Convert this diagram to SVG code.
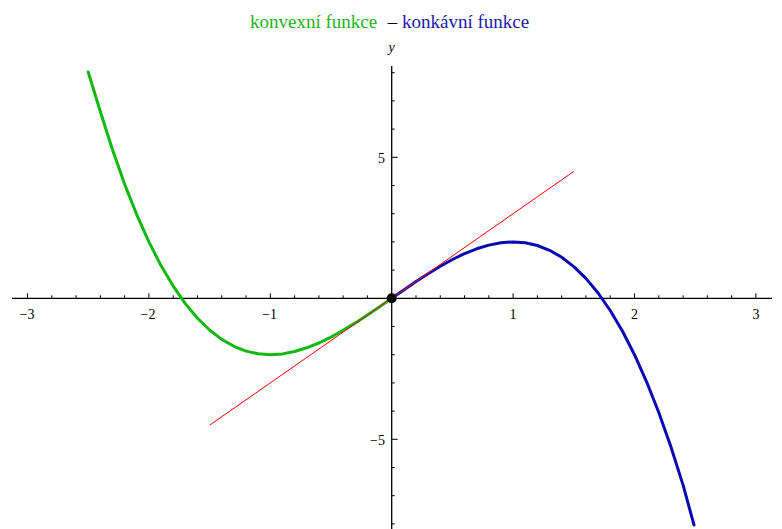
<svg xmlns="http://www.w3.org/2000/svg" width="782" height="529" viewBox="0 0 782 529">
<style>
.axis{stroke:#000;stroke-width:1.3;fill:none}
.tk{stroke:#000;stroke-width:1;fill:none}
.lbl{font-family:"Liberation Serif",serif;font-size:14px;fill:#000}
.title{font-family:"Liberation Serif",serif;font-size:19px}
.curve{fill:none;stroke-width:3;stroke-linejoin:round;stroke-linecap:round}
</style>
<rect width="782" height="529" fill="#fff"/>
<g id="title">
<text class="title" x="250" y="28" fill="#1db31d">konvexní funkce</text>
<text class="title" x="392.5" y="28" fill="#000" text-anchor="middle">–</text>
<text class="title" x="402" y="28" fill="#1a1aaa">konkávní funkce</text>
</g>
<g id="axes">
<line class="axis" x1="12" y1="298.3" x2="772" y2="298.3"/>
<line class="axis" x1="391.7" y1="66" x2="391.7" y2="529"/>
<path class="tk" d="M27.5,298.3v-5M148.9,298.3v-5M270.3,298.3v-5M513.1,298.3v-5M634.5,298.3v-5M755.9,298.3v-5"/>
<path class="tk" d="M51.8,298.3v-3M76.1,298.3v-3M100.4,298.3v-3M124.6,298.3v-3M173.2,298.3v-3M197.5,298.3v-3M221.7,298.3v-3M246.0,298.3v-3M294.6,298.3v-3M318.9,298.3v-3M343.1,298.3v-3M367.4,298.3v-3M416.0,298.3v-3M440.3,298.3v-3M464.5,298.3v-3M488.8,298.3v-3M537.4,298.3v-3M561.7,298.3v-3M585.9,298.3v-3M610.2,298.3v-3M658.8,298.3v-3M683.1,298.3v-3M707.3,298.3v-3M731.6,298.3v-3"/>
<path class="tk" d="M391.7,157.3h6M391.7,439.3h6"/>
<path class="tk" d="M391.7,72.7h3M391.7,100.9h3M391.7,129.1h3M391.7,185.5h3M391.7,213.7h3M391.7,241.9h3M391.7,270.1h3M391.7,326.5h3M391.7,354.7h3M391.7,382.9h3M391.7,411.1h3M391.7,467.5h3M391.7,495.7h3M391.7,523.9h3"/>
<text class="lbl" x="27" y="319" text-anchor="middle">−3</text>
<text class="lbl" x="148" y="319" text-anchor="middle">−2</text>
<text class="lbl" x="269.5" y="319" text-anchor="middle">−1</text>
<text class="lbl" x="513" y="319" text-anchor="middle">1</text>
<text class="lbl" x="634.5" y="319" text-anchor="middle">2</text>
<text class="lbl" x="756" y="319" text-anchor="middle">3</text>
<text class="lbl" x="385" y="163" text-anchor="end">5</text>
<text class="lbl" x="385" y="445" text-anchor="end">−5</text>
<text class="lbl" x="391.5" y="52" text-anchor="middle" font-style="italic">y</text>
</g>
<g id="connectors">
<polyline id="convex" class="curve" stroke="#10b810" points="88.2,72 100.3,111.5 112.5,149.8 124.6,184.1 136.8,214.8 148.9,241.9 161.0,265.6 173.2,286.1 185.3,303.6 197.5,318.2 209.6,330.0 221.7,339.4 233.9,346.3 246.0,351.1 258.2,353.8 270.3,354.7 282.4,353.9 294.6,351.5 306.7,347.8 318.9,343.0 331.0,337.1 343.1,330.3 355.3,322.9 367.4,315.0 379.6,306.7 391.7,298.3"/>
<polyline id="concave" class="curve" stroke="#0a0ab0" points="391.7,298.3 403.8,289.9 416.0,281.6 428.1,273.7 440.3,266.3 452.4,259.5 464.5,253.6 476.7,248.8 488.8,245.1 501.0,242.7 513.1,241.9 525.2,242.8 537.4,245.5 549.5,250.3 561.7,257.2 573.8,266.6 585.9,278.4 598.1,293.0 610.2,310.5 622.4,331.0 634.5,354.7 646.6,381.8 658.8,412.5 670.9,446.8 683.1,485.1 694,525"/>
<line id="tangent" x1="209.6" y1="425.2" x2="573.8" y2="171.4" stroke="#ff0000" stroke-width="1"/>
</g>
<g id="origin">
<circle cx="391.7" cy="298.3" r="5" fill="#000"/>
</g>
</svg>
